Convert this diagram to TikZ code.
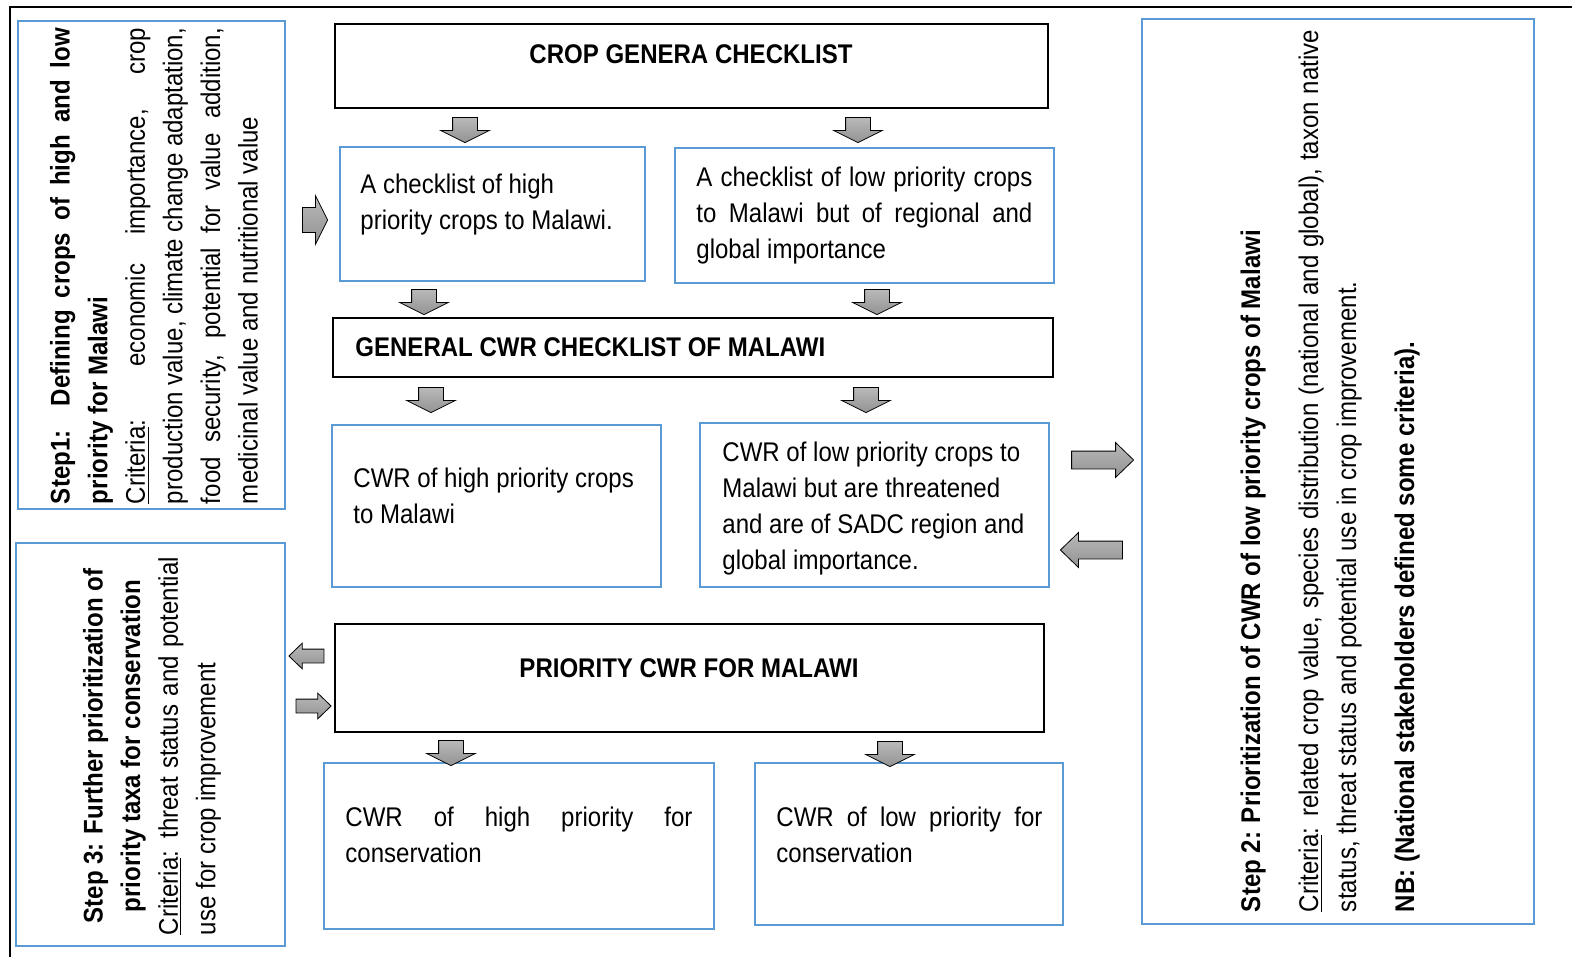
\documentclass[tikz,border=0pt]{standalone}
\usepackage{fontspec}
\setmainfont{Liberation Sans}[FakeStretch=0.89]
\usepackage{tikz}
\usetikzlibrary{shapes.arrows,fit,positioning}
\definecolor{boxblue}{RGB}{91,155,213}
\newcommand{\boxtext}{\fontsize{13.5pt}{18pt}\selectfont}
\newcommand{\sidetext}{\fontsize{13.5pt}{18.8pt}\selectfont}

\begin{document}
\begin{tikzpicture}[x=0.5pt, y=-0.5pt,
    every node/.style={font=\boxtext, inner sep=0pt},
    bluebox/.style={draw=boxblue, line width=1.2pt},
    blackbox/.style={draw=black, line width=1pt},
    blockarr/.style={single arrow, draw=black, line width=0.4pt, inner xsep=0pt,
      top color=gray!55, bottom color=gray!85},
    bigarr/.style={blockarr, minimum height=12.5pt, minimum width=24pt, inner ysep=6pt,
      single arrow head extend=6pt, single arrow tip angle=127},
    dnarr/.style={bigarr, inner xsep=6pt, inner ysep=0pt, shape border rotate=270},
    midarr/.style={blockarr, minimum height=31pt, minimum width=17pt, inner ysep=4.25pt,
      single arrow head extend=4.25pt, single arrow tip angle=88},
    smallarr/.style={blockarr, minimum height=17.5pt, minimum width=12.5pt, inner ysep=3.25pt,
      single arrow head extend=3pt, single arrow tip angle=88},
    sidetxt/.style={rotate=90, font=\sidetext, align=justify}]
  \useasboundingbox (0,0) rectangle (1572,957);

  % ---- frame ----
  \draw[line width=1pt] (10,957) -- (10,7) -- (1572,7);

  % ---- step boxes (rotated text) ----
  \node[bluebox, fit={(18,21) (285,509)}] (stepone) {};
  \node[bluebox, fit={(16,543) (285,946)}] (stepthree) {};
  \node[bluebox, fit={(1142,19) (1534,924)}] (steptwo) {};

  \node[sidetxt, text width=238pt] (steponetxt) at (154,266) {%
    \textbf{Step1:\ \ Defining crops of high and low}\linebreak
    \textbf{priority for Malawi}\\
    \underline{Criteria}: economic importance, crop\linebreak
    production value, climate change adaptation,\linebreak
    food security, potential for value addition,\linebreak
    medicinal value and nutritional value};

  \node[sidetxt, text width=189pt] (stepthreetxt) at (152,746) {%
    {\centering\textbf{Step 3: Further prioritization of}\\
    \textbf{priority taxa for conservation}\par}
    \underline{Criteria}: threat status and potential\linebreak
    use for crop improvement};

  \node[sidetxt, text width=441pt, font=\fontsize{13.5pt}{19pt}\selectfont]
    (steptwotxt) at (1330,471) {%
    \textbf{Step 2: Prioritization of CWR of low priority crops of Malawi}\\[10pt]
    \underline{Criteria}: related crop value, species distribution (national and global), taxon native\linebreak
    status, threat status and potential use in crop improvement.\\[10pt]
    \textbf{NB: (National stakeholders defined some criteria).}};

  % ---- main column ----
  \node[blackbox, fit={(335,24) (1048,108)}] (genera) {};
  \node[font=\boxtext\bfseries, anchor=base] (generatxt) at (691,64) {CROP GENERA CHECKLIST};

  \node[bluebox, fit={(340,147) (645,281)}] (chkhigh) {};
  \node[anchor=north west, align=left] (chkhightxt) at (360,174)
    {A checklist of high\\priority crops to Malawi.};
  \node[bluebox, fit={(675,148) (1054,283)}] (chklow) {};
  \node[anchor=north west, text width=168pt, align=justify] (chklowtxt) at (696,167)
    {A checklist of low priority crops\linebreak to Malawi but of regional and\linebreak global importance};

  \node[blackbox, fit={(333,318) (1053,377)}] (general) {};
  \node[font=\boxtext\bfseries, anchor=base west] (generaltxt) at (355,356)
    {GENERAL CWR CHECKLIST OF MALAWI};

  \node[bluebox, fit={(332,425) (661,587)}] (cwrhigh) {};
  \node[anchor=north west, align=left] (cwrhightxt) at (353,468)
    {CWR of high priority crops\\to Malawi};
  \node[bluebox, fit={(700,423) (1049,587)}] (cwrlow) {};
  \node[anchor=north west, align=left] (cwrlowtxt) at (722,442)
    {CWR of low priority crops to\\Malawi but are threatened\\and are of SADC region and\\global importance.};

  \node[blackbox, fit={(335,624) (1044,732)}] (priority) {};
  \node[font=\boxtext\bfseries, anchor=base] (prioritytxt) at (689,677)
    {PRIORITY CWR FOR MALAWI};

  \node[bluebox, fit={(324,763) (714,929)}] (conshigh) {};
  \node[anchor=north west, text width=173.5pt, align=justify] (conshightxt) at (345,807)
    {CWR of high priority for\linebreak conservation};
  \node[bluebox, fit={(755,763) (1063,925)}] (conslow) {};
  \node[anchor=north west, text width=133pt, align=justify] (conslowtxt) at (776,807)
    {CWR of low priority for\linebreak conservation};

  % ---- block arrows ----
  \foreach \x/\y [count=\i] in {465/127, 858/127, 424/299, 877/299,
                                431/397, 866/397, 451/750, 890/751} {
    \node[dnarr] (dn\i) at (\x,\y) {};
  }
  \node[bigarr] (toone) at (312,220) {};
  \node[midarr] (totwo) at (1098,460) {};
  \node[midarr, shape border rotate=180] (fromtwo) at (1096,550) {};
  \node[smallarr, shape border rotate=180] (tothree) at (310,656) {};
  \node[smallarr] (fromthree) at (310,706) {};
\end{tikzpicture}
\end{document}
